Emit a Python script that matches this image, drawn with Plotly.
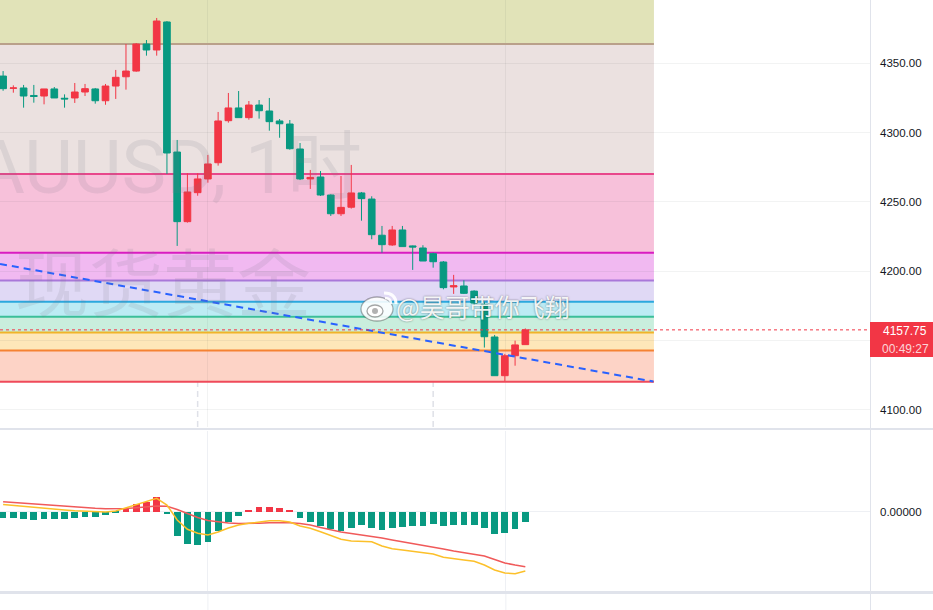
import plotly.graph_objects as go

# ---------------- data ----------------
idx = list(range(52))
opens = [4340.8, 4332.0, 4332.2, 4326.8, 4326.4, 4331.5, 4324.8, 4325.0, 4329.3, 4331.5,
         4323.0, 4333.6, 4340.3, 4344.4, 4363.9, 4359.6, 4379.8, 4286.0, 4235.8, 4256.7,
         4266.6, 4278.3, 4308.6, 4317.8, 4310.8, 4319.9, 4315.6, 4308.4, 4306.2, 4288.2,
         4266.6, 4268.0, 4255.0, 4241.5, 4246.2, 4256.5, 4252.1, 4226.0, 4219.0, 4229.8,
         4218.3, 4216.8, 4212.7, 4206.7, 4188.7, 4189.4, 4185.7, 4176.0, 4152.6, 4124.7,
         4139.1, 4147.1]
highs = [4344.4, 4334.1, 4334.4, 4334.4, 4331.5, 4332.9, 4327.6, 4335.8, 4335.1, 4332.2,
         4335.1, 4345.2, 4363.9, 4364.6, 4366.8, 4382.7, 4380.5, 4294.7, 4270.7, 4270.7,
         4283.9, 4314.9, 4328.6, 4330.0, 4322.8, 4323.5, 4325.0, 4309.8, 4309.1, 4292.5,
         4273.1, 4272.3, 4255.5, 4268.7, 4276.7, 4257.2, 4254.1, 4232.7, 4232.7, 4232.7,
         4218.6, 4218.8, 4213.4, 4207.4, 4197.4, 4193.5, 4186.3, 4178.0, 4154.1, 4140.4,
         4150.0, 4158.8]
lows = [4330.2, 4328.8, 4318.0, 4321.6, 4320.4, 4325.0, 4318.0, 4321.4, 4326.4, 4320.9,
        4320.1, 4324.3, 4331.0, 4343.9, 4355.5, 4355.5, 4270.2, 4218.3, 4235.1, 4254.5,
        4263.9, 4276.2, 4307.2, 4310.8, 4309.3, 4310.1, 4301.4, 4296.3, 4287.7, 4265.8,
        4259.4, 4254.3, 4239.9, 4239.9, 4245.2, 4236.5, 4223.1, 4213.4, 4218.3, 4217.8,
        4201.0, 4207.4, 4202.6, 4187.0, 4183.7, 4183.6, 4175.0, 4145.0, 4124.7, 4120.9,
        4131.9, 4147.1]
closes = [4331.7, 4332.2, 4326.4, 4326.1, 4331.5, 4325.0, 4324.3, 4329.3, 4331.7, 4323.0,
          4333.6, 4339.9, 4344.4, 4363.9, 4359.6, 4380.5, 4285.3, 4235.8, 4257.2, 4266.6,
          4277.4, 4308.4, 4317.8, 4310.8, 4319.9, 4315.8, 4307.9, 4306.4, 4288.4, 4266.6,
          4267.7, 4255.0, 4241.5, 4246.1, 4256.5, 4252.4, 4226.4, 4219.2, 4229.8, 4217.8,
          4217.5, 4207.4, 4206.9, 4188.2, 4189.6, 4184.1, 4177.1, 4152.8, 4124.7, 4139.1,
          4146.9, 4157.75]

macd_hist = [-2.4, -2.4, -2.9, -3.3, -2.9, -2.9, -2.9, -2.5, -2.1, -2.1,
             -1.3, -0.5, 0.9, 3.2, 3.9, 5.9, -0.8, -9.7, -12.9, -13.3,
             -12.0, -7.7, -4.1, -1.7, 0.8, 1.9, 1.9, 1.5, 0.3, -2.4,
             -4.1, -5.6, -7.1, -7.7, -6.4, -5.2, -6.4, -7.3, -6.4, -6.0,
             -5.6, -5.6, -4.8, -5.6, -5.2, -5.2, -5.2, -6.4, -8.8, -8.4,
             -6.8, -4.0]
macd_dif = [2.88, 2.48, 2.08, 1.68, 1.36, 1.08, 0.68, 0.40, 0.16, 0.00,
            -0.12, 0.28, 1.60, 2.96, 4.00, 5.36, 2.68, -3.32, -7.04, -8.64,
            -9.32, -8.12, -6.52, -5.32, -4.64, -4.00, -3.60, -3.60, -4.12, -5.72,
            -6.64, -8.00, -9.60, -11.04, -11.72, -11.84, -12.00, -13.72, -14.80, -15.32,
            -15.84, -16.40, -16.92, -18.24, -18.64, -19.32, -19.84, -21.32, -23.32, -24.52,
            -24.80, -23.72]
macd_dea = [4.00, 3.68, 3.36, 3.00, 2.68, 2.40, 2.08, 1.80, 1.56, 1.36,
            1.20, 1.16, 1.28, 1.56, 1.88, 2.28, 2.16, 0.88, -0.72, -2.32,
            -3.52, -4.12, -4.52, -4.72, -4.72, -4.64, -4.40, -4.40, -4.40, -4.72,
            -5.32, -6.32, -7.32, -8.12, -8.72, -9.32, -9.80, -10.52, -11.32, -12.00,
            -12.64, -13.32, -14.12, -14.92, -15.72, -16.40, -17.04, -17.72, -19.12, -20.52,
            -21.32, -22.00]

# Fibonacci-style zone levels (bottom to top) and the drawing's right end (bar index)
fib_levels = [4120.4, 4142.8, 4155.9, 4167.3, 4178.1, 4193.3, 4213.4, 4270.2, 4363.9]
fib_end = 63.56

# trend line (bar index, price)
trend_x = [-0.3, 63.5]
trend_y = [4205.3, 4120.5]

session_breaks = [19, 42]
time_grid = [20, 49.1]

price_ticks = [4100, 4150, 4200, 4250, 4300, 4350]
price_ticktext = ["4100.00", "", "4200.00", "4250.00", "4300.00", "4350.00"]
last_price_text = "4157.75"
countdown_text = "00:49:27"

# ---------------- styling ----------------
W, H = 933, 610
PLOT_R = 870
def px(x):
    return x / W
def py(y):
    return 1 - y / H

RED = "#f23645"
GREEN = "#089981"
GRID = "rgba(42,46,57,0.06)"
BORDER = "#e0e3eb"
WM = "rgba(120,123,134,0.14)"

zone_fills = ["#fdd3c6", "#fee7b9", "#c9eedd", "#bcebf4", "#e0d9f5",
              "#f1b9f1", "#f7c1da", "#ebe1e0", "#e1e3b8"]
zone_lines = ["#ef4a5a", "#f58233", "#f0b429", "#3bbf99", "#2ba8de",
              "#a978d9", "#d91cc1", "#e8478b", "#b9a08a"]

fig = go.Figure()

fig.add_trace(go.Candlestick(
    x=idx, open=opens, high=highs, low=lows, close=closes,
    increasing=dict(line=dict(color=RED, width=1), fillcolor=RED),
    decreasing=dict(line=dict(color=GREEN, width=1), fillcolor=GREEN),
    whiskerwidth=0, xaxis="x", yaxis="y", showlegend=False, hoverinfo="skip"))

fig.add_trace(go.Scatter(
    x=trend_x, y=trend_y, mode="lines", xaxis="x", yaxis="y",
    line=dict(color="#2962ff", width=2, dash="7px,5px"),
    showlegend=False, hoverinfo="skip"))

fig.add_trace(go.Bar(
    x=idx, y=macd_hist, xaxis="x2", yaxis="y2", width=0.66,
    marker=dict(color=[RED if v >= 0 else GREEN for v in macd_hist], line=dict(width=0)),
    showlegend=False, hoverinfo="skip"))
fig.add_trace(go.Scatter(
    x=idx, y=macd_dea, mode="lines", xaxis="x2", yaxis="y2",
    line=dict(color="#f05a5a", width=1.5), showlegend=False, hoverinfo="skip"))
fig.add_trace(go.Scatter(
    x=idx, y=macd_dif, mode="lines", xaxis="x2", yaxis="y2",
    line=dict(color="#fcc02a", width=1.5), showlegend=False, hoverinfo="skip"))

shapes = []
# zones
for k, lev in enumerate(fib_levels):
    top = fib_levels[k + 1] if k + 1 < len(fib_levels) else 4500
    shapes.append(dict(type="rect", xref="x", yref="y", x0=-5, x1=fib_end, y0=lev, y1=top,
                       fillcolor=zone_fills[k], line=dict(width=0), layer="below"))
for k, lev in enumerate(fib_levels):
    shapes.append(dict(type="line", xref="x", yref="y", x0=-5, x1=fib_end, y0=lev, y1=lev,
                       line=dict(color=zone_lines[k], width=2), layer="between"))
# session breaks
for s in session_breaks:
    shapes.append(dict(type="line", xref="x", yref="paper", x0=s, x1=s, y0=py(427), y1=1,
                       line=dict(color="#dfe1e8", width=1.5, dash="6px,4px"), layer="between"))
# time grid below the MACD pane
for t in time_grid:
    shapes.append(dict(type="line", xref="x", yref="paper", x0=t, x1=t, y0=0, y1=py(594),
                       line=dict(color="#eef0f4", width=1), layer="below"))
# last price dotted line
shapes.append(dict(type="line", xref="paper", yref="y", x0=0, x1=px(PLOT_R),
                   y0=closes[-1], y1=closes[-1], line=dict(color=RED, width=1, dash="dot")))
# pane separators / axis border
shapes.append(dict(type="line", xref="paper", yref="paper", x0=0, x1=1, y0=py(429), y1=py(429),
                   line=dict(color=BORDER, width=2)))
shapes.append(dict(type="rect", xref="paper", yref="paper", x0=0, x1=1, y0=py(594), y1=py(591),
                   fillcolor=BORDER, line=dict(width=0)))
shapes.append(dict(type="line", xref="paper", yref="paper", x0=px(PLOT_R + 0.5), x1=px(PLOT_R + 0.5),
                   y0=0, y1=1, line=dict(color=BORDER, width=1)))
# last price label box
shapes.append(dict(type="rect", xref="paper", yref="paper", x0=px(PLOT_R), x1=1,
                   y0=py(357), y1=py(322), fillcolor=RED, line=dict(width=0)))

# weibo logo approximation
shapes.append(dict(type="circle", xref="paper", yref="paper", x0=px(361), x1=px(393),
                   y0=py(321), y1=py(297), fillcolor="rgba(255,255,255,0.88)",
                   line=dict(color="rgba(0,0,0,0.3)", width=1.3)))
shapes.append(dict(type="circle", xref="paper", yref="paper", x0=px(367), x1=px(383),
                   y0=py(317), y1=py(305), fillcolor="rgba(255,255,255,0.9)",
                   line=dict(color="rgba(0,0,0,0.35)", width=1.3)))
shapes.append(dict(type="circle", xref="paper", yref="paper", x0=px(372), x1=px(378),
                   y0=py(314), y1=py(308), fillcolor="rgba(0,0,0,0.3)", line=dict(width=0)))
shapes.append(dict(type="path", xref="paper", yref="paper",
                   path=f"M {px(384)} {py(293)} Q {px(396)} {py(293)} {px(396)} {py(304)}",
                   line=dict(color="rgba(255,255,255,0.92)", width=3)))
shapes.append(dict(type="path", xref="paper", yref="paper",
                   path=f"M {px(385)} {py(298)} Q {px(391)} {py(298)} {px(391)} {py(304)}",
                   line=dict(color="rgba(255,255,255,0.92)", width=2.5)))

annotations = [
    dict(text="XAUUSD, 1时", xref="paper", yref="paper", x=px(364), y=py(167),
         xanchor="right", yanchor="middle", showarrow=False,
         font=dict(family="Roboto, 'Noto Sans CJK SC'", size=75, color=WM)),
    dict(text="现货黄金", xref="paper", yref="paper", x=px(163), y=py(278),
         xanchor="center", yanchor="middle", showarrow=False,
         font=dict(family="'Noto Sans CJK SC'", size=74, color=WM)),
    dict(text="@昊哥带你飞翔", xref="paper", yref="paper", x=px(483), y=py(306),
         xanchor="center", yanchor="middle", showarrow=False,
         font=dict(family="'Noto Sans CJK SC'", size=25, color="rgba(255,255,255,0.92)",
                   shadow="0px 0px 2px rgba(0,0,0,0.55)")),
    dict(text=last_price_text, xref="paper", yref="paper", x=px(881), y=py(331),
         xanchor="left", yanchor="middle", showarrow=False,
         font=dict(family="Liberation Sans", size=12, color="white")),
    dict(text=countdown_text, xref="paper", yref="paper", x=px(880), y=py(348.5),
         xanchor="left", yanchor="middle", showarrow=False,
         font=dict(family="Liberation Sans", size=12, color="rgba(255,255,255,0.8)")),
]

axis_font = dict(family="Liberation Sans", size=11.5, color="#131722")

fig.update_layout(
    width=W, height=H, margin=dict(l=0, r=0, t=0, b=0),
    paper_bgcolor="white", plot_bgcolor="white",
    showlegend=False, bargap=0, boxgap=0.35, boxgroupgap=0,
    shapes=shapes, annotations=annotations,
    xaxis=dict(domain=[0, px(PLOT_R)], range=[-0.303, 84.66], anchor="y",
               tickvals=time_grid, showticklabels=False, showgrid=True, gridcolor=GRID,
               zeroline=False, showline=False, ticks="", rangeslider=dict(visible=False),
               fixedrange=True),
    xaxis2=dict(domain=[0, px(PLOT_R)], range=[-0.303, 84.66], anchor="y2", matches="x",
                tickvals=time_grid, showticklabels=False, showgrid=True, gridcolor="#eef0f4",
                zeroline=False, showline=False, ticks="", fixedrange=True),
    yaxis=dict(domain=[py(427), 1], range=[4087.7, 4395.65], side="right", anchor="x",
               tickvals=price_ticks, ticktext=price_ticktext, tickfont=axis_font,
               showgrid=True, gridcolor=GRID, zeroline=False, showline=False, ticks="",
               ticklabelstandoff=9, fixedrange=True),
    yaxis2=dict(domain=[py(591), py(431)], range=[-31.72, 32.28], side="right", anchor="x2",
                tickvals=[0], ticktext=["0.00000"], tickfont=axis_font,
                showgrid=True, gridcolor="#eef0f4", zeroline=False, showline=False, ticks="",
                ticklabelstandoff=9, fixedrange=True),
)

fig.write_html("out.html")
